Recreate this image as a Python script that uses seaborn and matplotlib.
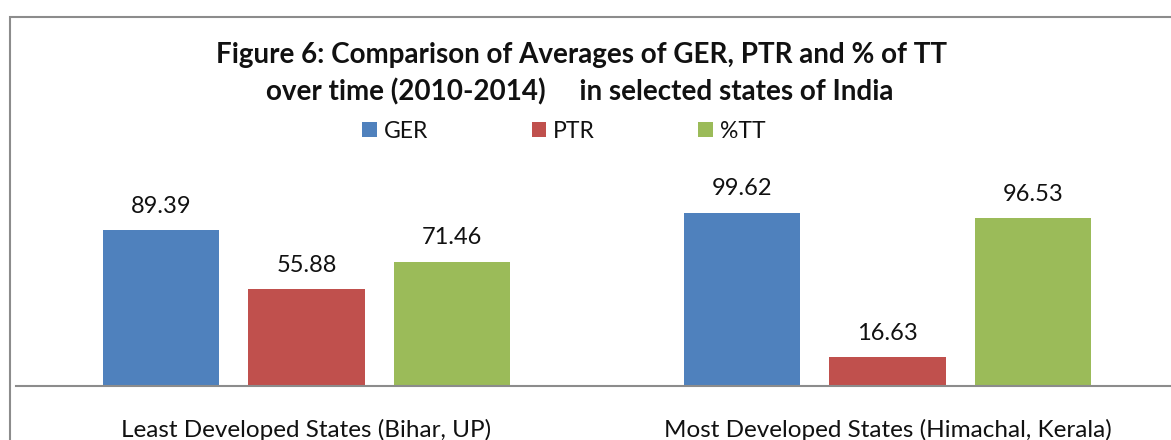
import matplotlib
matplotlib.use("Agg")
import matplotlib.pyplot as plt
import seaborn as sns
import pandas as pd
from matplotlib.patches import Rectangle

categories = ["Least Developed States (Bihar, UP)", "Most Developed States (Himachal, Kerala)"]
series = ["GER", "PTR", "%TT"]
ger = [89.39, 99.62]
ptr = [55.88, 16.63]
tt = [71.46, 96.53]
colors = ["#4F81BD", "#C0504D", "#9BBB59"]
title_lines = ["Figure 6: Comparison of Averages of GER, PTR and % of TT",
               "over time (2010-2014)     in selected states of India"]

df = pd.DataFrame({
    "category": categories * 3,
    "series": [s for s in series for _ in categories],
    "value": ger + ptr + tt,
})

sns.set_theme(style="white")
plt.rcParams['font.family'] = ['Lato', 'DejaVu Sans']

W, H = 1171, 440
fig = plt.figure(figsize=(W / 100, H / 100), dpi=100)
px_per_unit = 1.74
ymax = 120
base = 386
ax_h = px_per_unit * ymax
ax = fig.add_axes([16 / W, 1 - base / H, (W - 16) / W, ax_h / H])

sns.barplot(data=df, x="category", y="value", hue="series", palette=colors,
            width=0.75, gap=0.2, saturation=1, linewidth=0, ax=ax)

for cont in ax.containers:
    ax.bar_label(cont, fmt="%.2f", padding=9.5, fontsize=17, color="#111111")

ax.set_xlim(-0.5, 1.488)
ax.set_ylim(0, ymax)
ax.set_yticks([])
ax.set_xlabel("")
ax.set_ylabel("")
for s in ["left", "top", "right"]:
    ax.spines[s].set_visible(False)
ax.spines["bottom"].set_color("#8C8C8C")
ax.spines["bottom"].set_linewidth(1.5)
ax.tick_params(axis="x", length=0, pad=24, labelsize=17.5, labelcolor="#111111")

handles, labels = ax.get_legend_handles_labels()
ax.get_legend().remove()
fig.legend(handles, labels, loc="center", bbox_to_anchor=(564 / W, 1 - 131 / H),
           ncol=3, frameon=False, handlelength=0.65, handleheight=0.65,
           handletextpad=0.3, columnspacing=4.5, fontsize=16.5, labelcolor="#111111")

fig.text(582 / W, 1 - 55 / H, title_lines[0], ha="center", va="center",
         fontweight="bold", fontsize=20, color="#111111")
fig.text(580 / W, 1 - 92 / H, title_lines[1], ha="center", va="center",
         fontweight="bold", fontsize=20, color="#111111")

fig.patches.append(Rectangle((9.5 / W, -0.5), 2, 1 - 16.5 / H + 0.5,
                             transform=fig.transFigure, fill=False,
                             edgecolor="#8C8C8C", linewidth=1.5))

fig.savefig("out.png", dpi=100)
